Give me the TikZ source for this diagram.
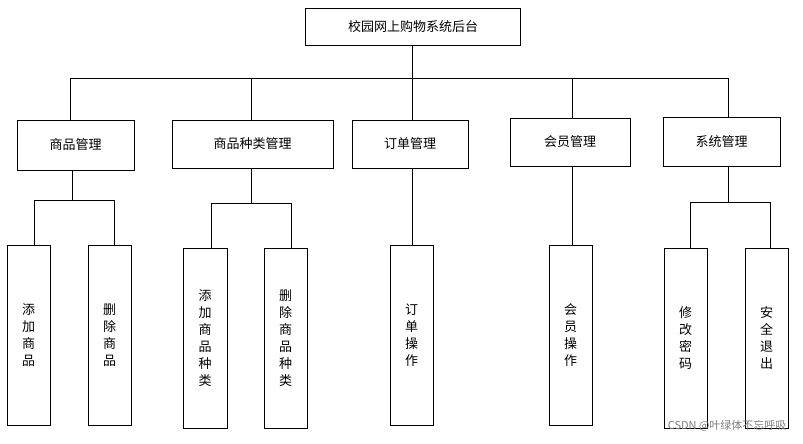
\documentclass[tikz,border=0pt]{standalone}
\usepackage{fontspec}
\setmainfont{Noto Sans CJK SC}
\begin{document}
\begin{tikzpicture}[x=1pt,y=-1pt,
  box/.style={draw,thick,inner sep=0pt,font=\fontsize{13}{15}\selectfont},
  vbox/.style={draw,thick,inner sep=0pt,align=center,font=\fontsize{13}{17}\selectfont},
  ln/.style={thick}]
\useasboundingbox (0,0) rectangle (803,444);
\fill[white] (0,0) rectangle (803,444);
\node[box,minimum width=215,minimum height=37] (root) at (413,26.5) {校园网上购物系统后台};
\node[box,minimum width=117,minimum height=50] (a) at (75.5,145) {商品管理};
\node[box,minimum width=161,minimum height=48] (b) at (252.5,144) {商品种类管理};
\node[box,minimum width=116,minimum height=48] (c) at (410,144) {订单管理};
\node[box,minimum width=120,minimum height=48] (d) at (570,142) {会员管理};
\node[box,minimum width=117,minimum height=49] (e) at (721.5,141.5) {系统管理};
\node[vbox,minimum width=43,minimum height=180] (a1) at (28.5,335) {添\\加\\商\\品};
\node[vbox,minimum width=43,minimum height=180] (a2) at (109.5,335) {删\\除\\商\\品};
\node[vbox,minimum width=44,minimum height=180] (b1) at (205,338) {添\\加\\商\\品\\种\\类};
\node[vbox,minimum width=43,minimum height=180] (b2) at (285.5,338) {删\\除\\商\\品\\种\\类};
\node[vbox,minimum width=43,minimum height=180] (c1) at (411.5,335) {订\\单\\操\\作};
\node[vbox,minimum width=43,minimum height=180] (d1) at (570.5,335) {会\\员\\操\\作};
\node[vbox,minimum width=43,minimum height=180] (e1) at (685.5,338) {修\\改\\密\\码};
\node[vbox,minimum width=43,minimum height=180] (e2) at (766.5,338) {安\\全\\退\\出};
\coordinate (h1) at (412,78);
\draw[ln] (root.south -| h1) -- (h1);
\draw[ln] (70,78) -- (728,78);
\draw[ln] (70,78) -- (a.north -| 70,0);
\draw[ln] (251,78) -- (b.north -| 251,0);
\draw[ln] (412,78) -- (c.north -| 412,0);
\draw[ln] (572,78) -- (d.north -| 572,0);
\draw[ln] (728,78) -- (e.north -| 728,0);
% group 1
\draw[ln] (a.south -| 72,0) -- (72,200);
\draw[ln] (34,200) -- (114,200);
\draw[ln] (34,200) -- (a1.north -| 34,0);
\draw[ln] (114,200) -- (a2.north -| 114,0);
% group 2
\draw[ln] (b.south -| 251,0) -- (251,203);
\draw[ln] (211,203) -- (291,203);
\draw[ln] (211,203) -- (b1.north -| 211,0);
\draw[ln] (291,203) -- (b2.north -| 291,0);
% group 3,4
\draw[ln] (c.south -| 412,0) -- (c1.north -| 412,0);
\draw[ln] (d.south -| 572,0) -- (d1.north -| 572,0);
% group 5
\draw[ln] (e.south -| 728,0) -- (728,202);
\draw[ln] (690,202) -- (770,202);
\draw[ln] (690,202) -- (e1.north -| 690,0);
\draw[ln] (770,202) -- (e2.north -| 770,0);
\node[text=gray,font=\fontsize{11}{13}\selectfont,anchor=east] (wm) at (790,426) {CSDN @叶绿体不忘呼吸};
\end{tikzpicture}
\end{document}
